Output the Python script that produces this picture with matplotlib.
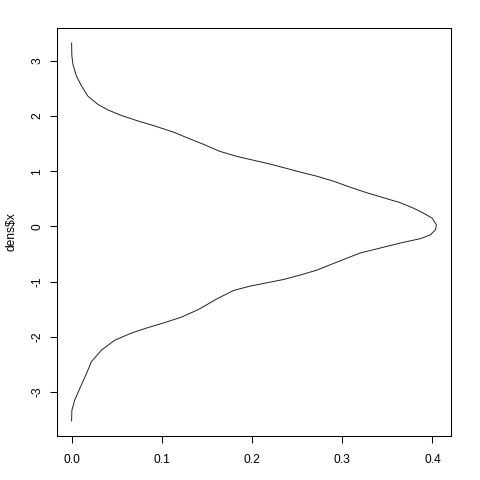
import matplotlib

matplotlib.use("Agg")
import matplotlib.pyplot as plt

# density estimate (dens$y) against grid points (dens$x)
dens_y = [
    0.0, 0.0003, 0.0014, 0.0052, 0.0108, 0.0181, 0.0292, 0.0403, 0.0552,
    0.0737, 0.0922, 0.1144, 0.1274, 0.1459, 0.1644, 0.183, 0.2014, 0.22,
    0.2386, 0.2533, 0.2719, 0.2903, 0.3089, 0.3274, 0.3459, 0.3644, 0.3792,
    0.3903, 0.3997, 0.4044, 0.4033, 0.3978, 0.3867, 0.3644, 0.3422, 0.32,
    0.3089, 0.2903, 0.2719, 0.2533, 0.2348, 0.2163, 0.1978, 0.1792, 0.16,
    0.1411, 0.1219, 0.1033, 0.0848, 0.0663, 0.0478, 0.033, 0.0219, 0.0163,
    0.0089, 0.0033, 0.0003, 0.0,
]
dens_x = [
    3.32, 3.09, 2.94, 2.73, 2.55, 2.36, 2.21, 2.11, 2.01,
    1.91, 1.82, 1.70, 1.61, 1.49, 1.36, 1.27, 1.20, 1.13,
    1.05, 0.985, 0.91, 0.82, 0.71, 0.61, 0.52, 0.43, 0.33,
    0.24, 0.15, 0.03, -0.06, -0.15, -0.22, -0.30, -0.39, -0.48,
    -0.55, -0.67, -0.79, -0.88, -0.96, -1.02, -1.08, -1.16, -1.32,
    -1.50, -1.64, -1.74, -1.83, -1.93, -2.06, -2.24, -2.45, -2.67,
    -2.94, -3.15, -3.33, -3.52,
]
x_ticks = [0.0, 0.1, 0.2, 0.3, 0.4]
x_tick_labels = ["0.0", "0.1", "0.2", "0.3", "0.4"]
y_ticks = [-3, -2, -1, 0, 1, 2, 3]

plt.rcParams["font.family"] = ["Liberation Sans", "DejaVu Sans"]

fig = plt.figure(figsize=(4.8, 4.8), dpi=100)
ax = fig.add_axes([57 / 480, 44 / 480, 394 / 480, 408 / 480])

ax.plot(dens_y, dens_x, color="#222222", lw=0.7, solid_joinstyle="round")

# R-style 4% padding on both axes
xr = max(dens_y) - min(dens_y)
yr = max(dens_x) - min(dens_x)
ax.set_xlim(min(dens_y) - 0.04 * xr, max(dens_y) + 0.04 * xr)
ax.set_ylim(min(dens_x) - 0.04 * yr, max(dens_x) + 0.04 * yr)

ax.set_xticks(x_ticks)
ax.set_xticklabels(x_tick_labels)
ax.set_yticks(y_ticks)
ax.set_yticklabels([str(v) for v in y_ticks], rotation=90, va="center")

ax.tick_params(axis="x", direction="out", length=5, width=0.75, pad=8.3,
               labelsize=8.64, colors="black")
ax.tick_params(axis="y", direction="out", length=5, width=0.75, pad=5,
               labelsize=8.64, colors="black")
for spine in ax.spines.values():
    spine.set_linewidth(0.75)
    spine.set_color("black")

ax.set_ylabel("dens\\$x", fontsize=8.64)
ax.yaxis.set_label_coords(-0.10, 0.5)

fig.savefig("out.png", dpi=100)
